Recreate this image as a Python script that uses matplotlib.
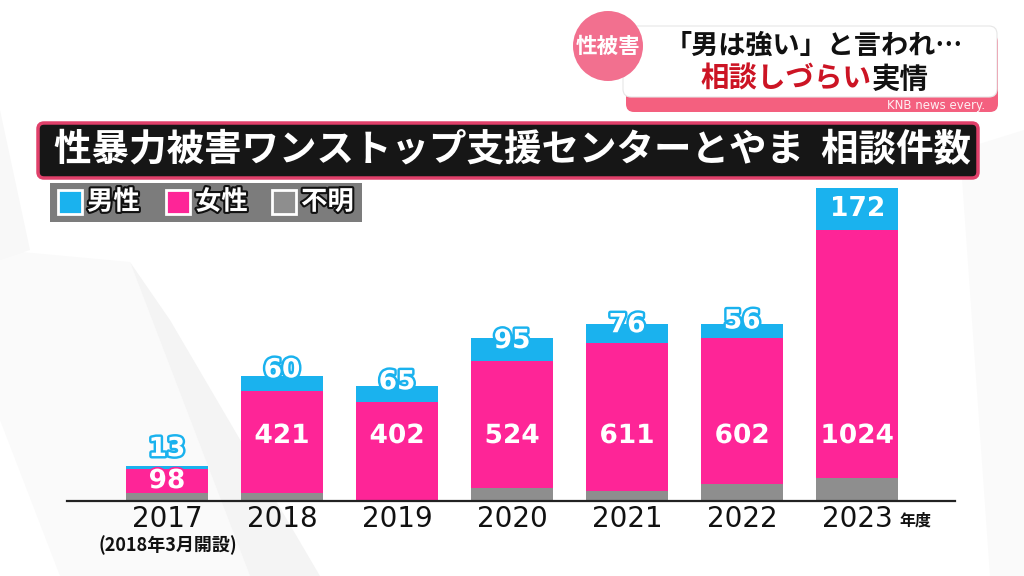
import matplotlib
matplotlib.use("Agg")
import matplotlib.pyplot as plt
import matplotlib.patheffects as pe
from matplotlib.patches import FancyBboxPatch, Circle, Rectangle, Polygon

plt.rcParams['font.family'] = ['Noto Sans CJK JP', 'DejaVu Sans']

# ---- data ----
years = ['2017', '2018', '2019', '2020', '2021', '2022', '2023']
male = [13, 60, 65, 95, 76, 56, 172]
female = [98, 421, 402, 524, 611, 602, 1024]
unknown = [33, 33, 6, 53, 42, 70, 95]   # not labelled
legend_labels = ['男性', '女性', '不明']
title = '性暴力被害ワンストップ支援センターとやま  相談件数'

BLUE = '#1ab2ee'
PINK = '#fe2597'
GRAY = '#8e8e8e'

W, H = 1024, 576
fig = plt.figure(figsize=(W / 100, H / 100), dpi=100)
fig.patch.set_facecolor('white')

# background / decoration layer in pixel coordinates
bg = fig.add_axes([0, 0, 1, 1], zorder=0)
bg.set_xlim(0, W)
bg.set_ylim(H, 0)
bg.axis('off')

# faint background streaks
bg.add_patch(Polygon([[0, 250], [130, 262], [250, 576], [60, 576], [0, 420]],
                     closed=True, fc='#fafafa', ec='none'))
bg.add_patch(Polygon([[130, 262], [170, 320], [320, 576], [250, 576]],
                     closed=True, fc='#f4f4f4', ec='none'))
bg.add_patch(Polygon([[0, 110], [30, 250], [0, 260]], closed=True, fc='#f8f8f8', ec='none'))
bg.add_patch(Polygon([[960, 150], [1024, 130], [1024, 576], [990, 576]],
                     closed=True, fc='#fafafa', ec='none'))

# header box (top right)
bg.add_patch(FancyBboxPatch((626, 34), 372, 78, boxstyle='round,pad=0,rounding_size=8',
                            fc='#f4607f', ec='none'))
bg.add_patch(FancyBboxPatch((623, 26), 374, 71, boxstyle='round,pad=0,rounding_size=8',
                            fc='white', ec='#e6e6e6', lw=0.8))
bg.add_patch(Circle((608, 46), 35, fc='#f2708f', ec='none'))
bg.text(608, 46, '性被害', color='white', fontsize=15.5, fontweight='bold',
        ha='center', va='center')
bg.text(814, 46, '「男は強い」と言われ…', color='#111111', fontsize=19.5,
        fontweight='bold', ha='center', va='center')
bg.text(700, 80, '相談しづらい', color='#cc1424', fontsize=20.5,
        fontweight='bold', ha='left', va='center')
bg.text(872, 80, '実情', color='#111111', fontsize=20.5, fontweight='bold',
        ha='left', va='center')
bg.text(985, 105, 'KNB news every.', color='white', fontsize=8.5, alpha=0.9,
        ha='right', va='center', family=['DejaVu Sans'])

# title bar
bg.add_patch(FancyBboxPatch((38, 123), 940, 55, boxstyle='round,pad=0,rounding_size=6',
                            fc='#161616', ec='#e0406a', lw=2.5))
bg.text(512, 150, title, color='white', fontsize=27, fontweight='bold',
        ha='center', va='center')

# legend box
bg.add_patch(Rectangle((50, 183), 312, 39, fc='#7c7c7c', ec='none'))
leg_colors = [BLUE, PINK, GRAY]
leg_x = [58, 166, 272]
for lx, col, lab in zip(leg_x, leg_colors, legend_labels):
    bg.add_patch(Rectangle((lx, 190), 24, 24, fc=col, ec='white', lw=2))
    bg.text(lx + 29, 202, lab, color='white', fontsize=19, fontweight='bold',
            ha='left', va='center',
            path_effects=[pe.withStroke(linewidth=3, foreground='#111111')])

# ---- main chart ----
ax = fig.add_axes([67 / W, (H - 501) / H, 888 / W, 321 / H], zorder=1)
ax.patch.set_alpha(0)
x = list(range(len(years)))
ax.set_xlim(-0.869, 6.85)
ax.set_ylim(0, 1324)

bw = 0.71
ax.bar(x, unknown, width=bw, color=GRAY, zorder=2)
ax.bar(x, female, width=bw, bottom=unknown, color=PINK, zorder=2)
fbot = [u + f for u, f in zip(unknown, female)]
ax.bar(x, male, width=bw, bottom=fbot, color=BLUE, zorder=2)

for s in ['top', 'right', 'left']:
    ax.spines[s].set_visible(False)
ax.spines['bottom'].set_color('#222222')
ax.spines['bottom'].set_linewidth(1.6)
ax.set_yticks([])
ax.set_xticks(x)
ax.set_xticklabels(years, fontsize=20, color='#111111', family=['DejaVu Sans'])
ax.tick_params(axis='x', length=0, pad=3)

# female labels
for xi, u, f in zip(x, unknown, female):
    y = 268 if u + f > 320 else u + f / 2
    ax.text(xi, y, str(f), color='white', fontsize=19, fontweight='bold',
            family=['DejaVu Sans'], ha='center', va='center', zorder=3,
            path_effects=[pe.withStroke(linewidth=2.5, foreground=PINK)])

# male labels (pixel offset from bar top when segment is small)
male_dy = [17, 6, 4, -3, -1, 3, 0]
for xi, fb, m, dy in zip(x, fbot, male, male_dy):
    if m >= 150:
        ax.text(xi, fb + m / 2, str(m), color='white', fontsize=19, fontweight='bold',
                family=['DejaVu Sans'], ha='center', va='center', zorder=3)
    else:
        ax.annotate(str(m), (xi, fb + m), xytext=(0, dy), textcoords='offset pixels',
                    color='white', fontsize=19, fontweight='bold',
                    family=['DejaVu Sans'], ha='center', va='center', zorder=3,
                    path_effects=[pe.withStroke(linewidth=3.5, foreground=BLUE)])

# notes under axis
bg.text(931, 521, '年度', color='#111111', fontsize=11.5, fontweight='bold',
        ha='right', va='center')
bg.text(168, 545, '(2018年3月開設)', color='#111111', fontsize=13,
        fontweight='bold', ha='center', va='center')

fig.savefig('out.png', dpi=100)
